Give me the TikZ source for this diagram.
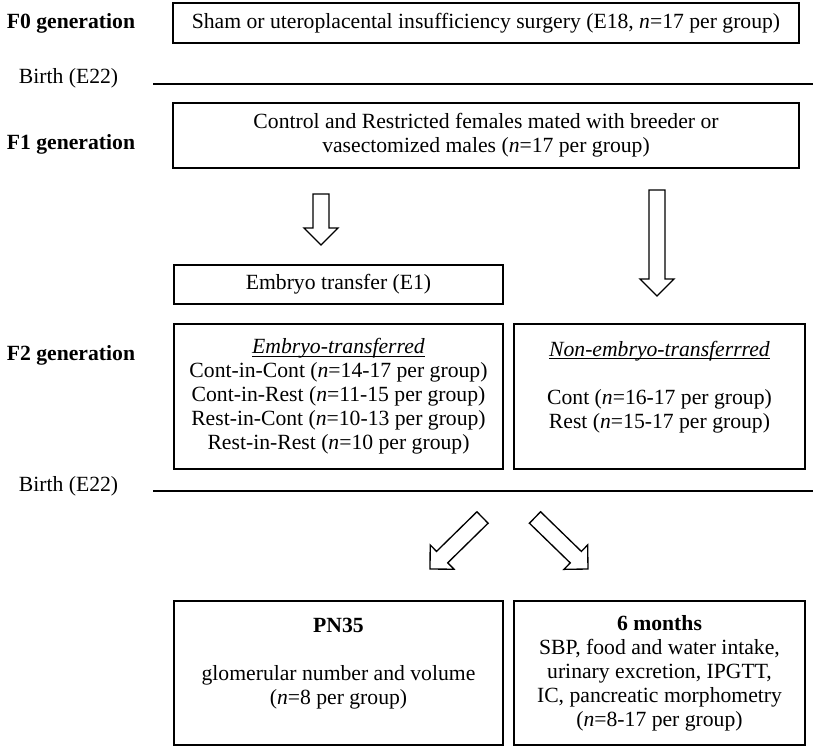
\documentclass[tikz,border=0pt]{standalone}
\usepackage{fontspec}
\setmainfont{Liberation Serif}
\usepackage{tikz}
\usetikzlibrary{calc}
\def\px{0.6pt}
\def\ulhead#1{\underline{\raisebox{0pt}[\height][0pt]{\textit{#1}}}}
\def\drawbirth{\draw[line width=1.5pt]}
\def\drawhollow#1#2{\draw[line width=0.8pt,line join=miter]
  ($(#1)!4.8pt!90:(#2)$) -- ($(#2)!10.2pt!(#1)!4.8pt!-90:(#1)$)
  -- ($(#2)!10.2pt!(#1)!10.2pt!-90:(#1)$) -- (#2)
  -- ($(#2)!10.2pt!(#1)!10.2pt!90:(#1)$) -- ($(#2)!10.2pt!(#1)!4.8pt!90:(#1)$)
  -- ($(#1)!4.8pt!-90:(#2)$) -- cycle;}
\tikzset{
  box/.style={draw, line width=0.8pt, inner sep=0pt, align=center},
  gen/.style={anchor=west, font=\bfseries\fontsize{13}{14.4}\selectfont},
}

\begin{document}
\begin{tikzpicture}[x=0.6pt,y=-0.6pt,font=\fontsize{13}{14.4}\selectfont]
\useasboundingbox (0,0) rectangle (815,747);
% generations
\node[gen] (gen0) at (1,23) {F0 generation};
\node[gen] (gen1) at (1,144) {F1 generation};
\node[gen] (gen2) at (1,355) {F2 generation};
\node[anchor=west] (birtha) at (13,78) {Birth (E22)};
\node[anchor=west] (birthb) at (13,486) {Birth (E22)};
\coordinate (la1) at (153,84);
\coordinate (la2) at (813,84);
\coordinate (lb1) at (153,491);
\coordinate (lb2) at (813,491);
\drawbirth (la1) -- (la2);
\drawbirth (lb1) -- (lb2);
% boxes
\node[box, minimum width={626*\px}, minimum height={40*\px}] (surgery) at (486,23)
  {Sham or uteroplacental insufficiency surgery (E18, \textit{n}=17 per group)};
\node[box, minimum width={626*\px}, minimum height={65*\px}] (mating) at (486,135.5)
  {Control and Restricted females mated with breeder or\\ vasectomized males (\textit{n}=17 per group)};
\node[box, minimum width={329*\px}, minimum height={39*\px}] (transfer) at (338.5,284.5)
  {Embryo transfer (E1)};
\node[box, minimum width={329*\px}, minimum height={145*\px}] (etgroups) at (338.5,396.5)
  {\ulhead{Embryo-transferred}\\ Cont-in-Cont (\textit{n}=14-17 per group)\\
   Cont-in-Rest (\textit{n}=11-15 per group)\\ Rest-in-Cont (\textit{n}=10-13 per group)\\
   Rest-in-Rest (\textit{n}=10 per group)};
\node[box, minimum width={291*\px}, minimum height={145*\px}] (nongroups) at (659.5,396.5)
  {\ulhead{Non-embryo-transferrred}\\ \mbox{}\\ Cont (\textit{n}=16-17 per group)\\
   Rest (\textit{n}=15-17 per group)\\ \mbox{}};
\node[box, minimum width={329*\px}, minimum height={144*\px}] (pn35) at (338.5,673)
  {\textbf{PN35}\\ \mbox{}\\ glomerular number and volume\\ (\textit{n}=8 per group)\\ \mbox{}};
\node[box, minimum width={291*\px}, minimum height={144*\px}] (sixmo) at (659.5,673)
  {\textbf{6 months}\\ SBP, food and water intake,\\ urinary excretion, IPGTT,\\
   IC, pancreatic morphometry\\ (\textit{n}=8-17 per group)};
% hollow arrows
\coordinate (a1t) at (321,194);
\coordinate (a1h) at (321,245);
\coordinate (a2t) at (657,190);
\coordinate (a2h) at (657,296);
\coordinate (a3t) at (482.5,517.5);
\coordinate (a3h) at (430,569);
\coordinate (a4t) at (535,517.5);
\coordinate (a4h) at (588,569);
\drawhollow{a1t}{a1h}
\drawhollow{a2t}{a2h}
\drawhollow{a3t}{a3h}
\drawhollow{a4t}{a4h}
\end{tikzpicture}
\end{document}
